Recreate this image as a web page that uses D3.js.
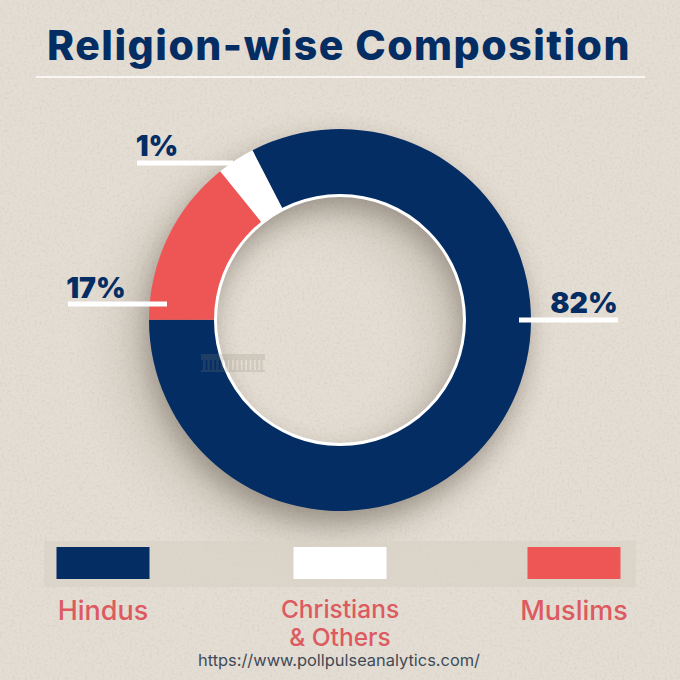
<!DOCTYPE html>
<html>
<head>
<meta charset="utf-8">
<script src="https://cdn.jsdelivr.net/npm/d3@7"></script>
<style>
  html, body { margin: 0; padding: 0; background: #e0d9cf; }
  svg { display: block; }
  text { font-family: Inter, "Open Sans", sans-serif; }
</style>
</head>
<body>
<script>
const wdth = 680;
const hght = 680;

const categories = ["Hindus", "Christians & Others", "Muslims"];
const colors = ["#042d63", "#ffffff", "#ee5656"];
// share of the ring as drawn (printed labels are rounded differently)
const sliceShares = [82.6, 3.2, 14.2];
const sliceLabels = ["82%", "1%", "17%"];
const legendLines = [["Hindus"], ["Christians", "& Others"], ["Muslims"]];
// clockwise order round the ring
const ringOrder = [0, 2, 1];

const cx = 340;
const cy = 320;
const outerR = 191;
const innerR = 125;
const startAngle = -27.3 * Math.PI / 180;

const svg = d3.select("body").append("svg").attr("width", wdth).attr("height", hght);
const defs = svg.append("defs");

const paper = defs.append("filter").attr("id", "paper").attr("x", 0).attr("y", 0).attr("width", "100%").attr("height", "100%");
paper.append("feTurbulence").attr("type", "fractalNoise").attr("baseFrequency", 0.4).attr("numOctaves", 4).attr("seed", 4);
paper.append("feColorMatrix").attr("type", "matrix")
  .attr("values", "0 0 0 0 0.45  0 0 0 0 0.40  0 0 0 0 0.33  0 0 0 1.6 -0.76");

defs.append("filter").attr("id", "soft").attr("x", "-30%").attr("y", "-30%").attr("width", "160%").attr("height", "160%")
  .append("feGaussianBlur").attr("stdDeviation", 13);
defs.append("filter").attr("id", "wide").attr("x", "-40%").attr("y", "-40%").attr("width", "180%").attr("height", "180%")
  .append("feGaussianBlur").attr("stdDeviation", 24);

svg.append("rect").attr("width", wdth).attr("height", hght).attr("fill", "#e4ddd3");
svg.append("rect").attr("width", wdth).attr("height", hght).attr("filter", "url(#paper)").attr("opacity", 0.3);

// title
svg.append("text")
  .attr("x", 339).attr("y", 60)
  .attr("text-anchor", "middle")
  .attr("font-size", 41).attr("font-weight", 800)
  .attr("letter-spacing", 1.5)
  .attr("fill", "#042d63")
  .text("Religion-wise Composition");

svg.append("line")
  .attr("x1", 36).attr("x2", 645).attr("y1", 77).attr("y2", 77)
  .attr("stroke", "#ffffff").attr("stroke-width", 1.5);

// ring
const pie = d3.pie().value((i) => sliceShares[i]).sort(null).startAngle(startAngle).endAngle(startAngle + 2 * Math.PI);
const slices = pie(ringOrder);
const arc = d3.arc().innerRadius(innerR).outerRadius(outerR);
const ringG = svg.append("g").attr("transform", "translate(" + cx + "," + cy + ")");
const fullRing = arc({ startAngle: 0, endAngle: 2 * Math.PI });

ringG.append("path")
  .attr("d", fullRing)
  .attr("transform", "translate(-30,24)")
  .attr("fill", "#5a5040")
  .attr("opacity", 0.16)
  .attr("filter", "url(#wide)");

ringG.append("path")
  .attr("d", fullRing)
  .attr("transform", "translate(-3,12)")
  .attr("fill", "#3b3328")
  .attr("opacity", 0.36)
  .attr("filter", "url(#soft)");

ringG.selectAll("path.slice")
  .data(slices)
  .enter()
  .append("path")
  .attr("class", "slice")
  .attr("d", arc)
  .attr("fill", (d) => colors[d.data]);

ringG.append("circle")
  .attr("r", innerR - 0.5)
  .attr("fill", "none")
  .attr("stroke", "#ffffff")
  .attr("stroke-width", 3);

// faint watermark over the ring edge
const mark = svg.append("g").attr("opacity", 0.2).attr("fill", "#8a8172");
mark.append("rect").attr("x", 201).attr("y", 354).attr("width", 64).attr("height", 6);
mark.selectAll("rect.col")
  .data(d3.range(14))
  .enter()
  .append("rect")
  .attr("class", "col")
  .attr("x", (d) => 203 + d * 4.4).attr("y", 360).attr("width", 2.6).attr("height", 10);
mark.append("rect").attr("x", 201).attr("y", 370).attr("width", 64).attr("height", 2);

// leader bars and value labels
const leaderBars = [
  { x: 519, y: 320, w: 99, tx: 584, ty: 313 },
  { x: 137, y: 163, w: 96, tx: 157, ty: 156 },
  { x: 68, y: 304, w: 99, tx: 96, ty: 298 }
];

svg.selectAll("rect.leader")
  .data(leaderBars)
  .enter()
  .append("rect")
  .attr("class", "leader")
  .attr("x", (d) => d.x).attr("y", (d) => d.y - 2.5)
  .attr("width", (d) => d.w).attr("height", 5)
  .attr("fill", "#ffffff");

svg.selectAll("text.value")
  .data(sliceLabels)
  .enter()
  .append("text")
  .attr("class", "value")
  .attr("x", (d, i) => leaderBars[i].tx)
  .attr("y", (d, i) => leaderBars[i].ty)
  .attr("text-anchor", "middle")
  .attr("font-size", 28.5)
  .attr("font-weight", 900)
  .attr("fill", "#042d63")
  .text((d) => d);

// legend
svg.append("rect")
  .attr("x", 44).attr("y", 541).attr("width", 592).attr("height", 46)
  .attr("fill", "#d8d1c6").attr("opacity", 0.7);

const legendX = d3.scaleOrdinal().domain(categories).range([103, 340, 574]);

svg.selectAll("rect.swatch")
  .data(categories)
  .enter()
  .append("rect")
  .attr("class", "swatch")
  .attr("x", (d) => legendX(d) - 46.5).attr("y", 547)
  .attr("width", 93).attr("height", 32)
  .attr("fill", (d, i) => colors[i]);

svg.selectAll("text.legend")
  .data(categories)
  .enter()
  .append("text")
  .attr("class", "legend")
  .attr("text-anchor", "middle")
  .attr("fill", "#dc5a60")
  .attr("font-weight", 500)
  .attr("font-size", (d, i) => legendLines[i].length > 1 ? 24.5 : 27)
  .each(function (d, i) {
    d3.select(this).selectAll("tspan")
      .data(legendLines[i])
      .enter()
      .append("tspan")
      .attr("x", legendX(d))
      .attr("y", (l, j) => (legendLines[i].length > 1 ? 618 : 620) + j * 28)
      .text((l) => l);
  });

svg.append("text")
  .attr("x", 339).attr("y", 666)
  .attr("text-anchor", "middle")
  .attr("font-size", 16.4)
  .attr("fill", "#3e4a58")
  .text("https://www.pollpulseanalytics.com/");
</script>
</body>
</html>
